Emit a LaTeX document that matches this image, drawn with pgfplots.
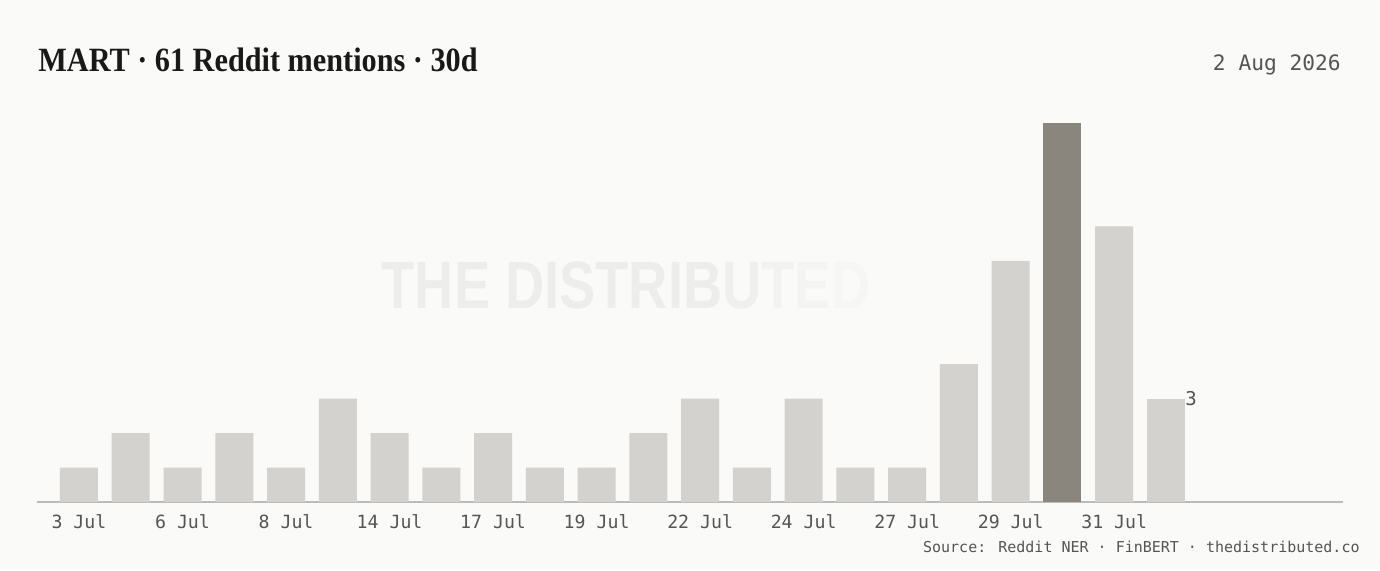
\documentclass[border=0pt]{standalone}
\usepackage{pgfplots}
\pgfplotsset{compat=1.18}
\usepackage{fontspec}
\setmainfont{Liberation Serif}
\newfontfamily\monof{DejaVu Sans Mono}
\newfontfamily\wmf{Liberation Sans}
\definecolor{bgc}{HTML}{FAFAF8}
\definecolor{barc}{HTML}{D3D2CE}
\definecolor{hic}{HTML}{8A857D}
\definecolor{axc}{HTML}{BBBBB8}
\definecolor{tkc}{HTML}{555555}
\definecolor{wm}{HTML}{EDEDEB}
\begin{document}
\begin{tikzpicture}
\fill[bgc] (0pt,0pt) rectangle (690pt,285pt);
\useasboundingbox (0pt,0pt) rectangle (690pt,285pt);
% watermark
\node[anchor=center, inner sep=0pt, xscale=0.81, font=\wmf\bfseries\fontsize{33.5}{36}\selectfont] at (313pt,142.5pt)
  {\textcolor{wm}{THE DISTRIB}\textcolor[HTML]{EFEFED}{U}\textcolor[HTML]{F2F2F0}{T}\textcolor[HTML]{F4F4F2}{E}\textcolor[HTML]{F6F6F4}{D}};
\begin{axis}[
  name=ax,
  at={(18.5pt,34pt)}, anchor=south west,
  scale only axis, width=653pt, height=201pt,
  xmin=-0.811, xmax=24.42, ymin=0, ymax=11.67,
  axis x line*=bottom, hide y axis,
  x axis line style={draw=axc, line width=0.8pt, -},
  ybar, bar width=19pt, bar shift=0pt,
  xtick={0,2,4,6,8,10,12,14,16,18,20},
  xticklabels={3 Jul,6 Jul,8 Jul,14 Jul,17 Jul,19 Jul,22 Jul,24 Jul,27 Jul,29 Jul,31 Jul},
  xtick style={draw=none},
  xticklabel style={font=\monof\fontsize{9.1}{10}\selectfont, text=tkc, anchor=north, yshift=1.3pt},
  clip=false,
]
\addplot[fill=barc, draw=none] coordinates {
(0,1) (1,2) (2,1) (3,2) (4,1) (5,3) (6,2) (7,1) (8,2) (9,1) (10,1)
(11,2) (12,3) (13,1) (14,3) (15,1) (16,1) (17,4) (18,7) (20,8)};
\addplot[fill=hic, draw=none] coordinates {(19,11)};
\addplot[fill=barc, draw=none, point meta=explicit symbolic, nodes near coords,
  every node near coord/.style={anchor=west, xshift=9pt, yshift=0pt, font=\monof\fontsize{9.5}{10}\selectfont, text=tkc, inner sep=0.5pt}]
  coordinates {(21,3) [3]};
\end{axis}
\node[anchor=base west, inner sep=0pt, xscale=0.89, font=\bfseries\fontsize{17}{20}\selectfont, text=black!90] at (19pt,249.5pt) {MART · 61 Reddit mentions · 30d};
\node[anchor=base east, inner sep=0pt, font=\monof\fontsize{10.6}{12}\selectfont, text=tkc] at (670.5pt,250pt) {2 Aug 2026};
\node[anchor=base east, inner sep=0pt, font=\monof\fontsize{7.5}{9}\selectfont, text=tkc] at (680pt,9pt) {Source: Reddit NER · FinBERT · thedistributed.co};
\end{tikzpicture}
\end{document}
